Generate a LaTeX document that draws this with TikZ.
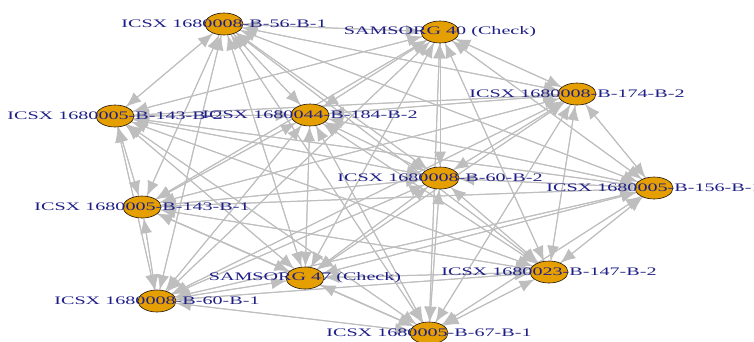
\documentclass[tikz,border=0pt]{standalone}
\usepackage{fontspec}
\newfontfamily\lblfont[FakeStretch=1.75]{Liberation Serif}
\usetikzlibrary{shapes.geometric,arrows.meta,backgrounds}
\definecolor{vorange}{RGB}{230,159,0}
\definecolor{egray}{RGB}{190,190,190}
\definecolor{lblue}{RGB}{30,30,135}
\begin{document}
\begin{tikzpicture}[x=1pt,y=-1pt,
  vert/.style={ellipse,draw=black!85!brown,fill=vorange,line width=0.6pt,minimum width=38pt,minimum height=22pt,inner sep=0pt},
  every label/.style={text=lblue,font=\lblfont\fontsize{11.5}{12}\selectfont,inner sep=0pt},
  edge/.style={draw=egray,line width=1pt,-{Latex[length=15pt,width=12pt]}}]
\useasboundingbox (0,0) rectangle (754,341);
\node[vert,label=center:{ICSX 1680008-B-56-B-1}] (v1) at (224,24) {};
\node[vert,label=center:{SAMSORG 40 (Check)}] (v2) at (440,32) {};
\node[vert,label=center:{ICSX 1680008-B-174-B-2}] (v3) at (577,94) {};
\node[vert,label=center:{ICSX 1680005-B-143-B-2}] (v4) at (115,116) {};
\node[vert,label=center:{ICSX 1680044-B-184-B-2}] (v5) at (310,115) {};
\node[vert,label=center:{ICSX 1680008-B-60-B-2}] (v6) at (440,178) {};
\node[vert,label=center:{ICSX 1680005-B-156-B-1}] (v7) at (654,188) {};
\node[vert,label=center:{ICSX 1680005-B-143-B-1}] (v8) at (142,207) {};
\node[vert,label=center:{SAMSORG 47 (Check)}] (v9) at (305,278) {};
\node[vert,label=center:{ICSX 1680023-B-147-B-2}] (v10) at (549,272) {};
\node[vert,label=center:{ICSX 1680008-B-60-B-1}] (v11) at (157,301) {};
\node[vert,label=center:{ICSX 1680005-B-67-B-1}] (v12) at (429,333) {};
\begin{scope}[on background layer]
\foreach \i in {1,...,12}{
  \foreach \j in {1,...,12}{
    \ifnum\i=\j\relax\else\draw[edge] (v\i) -- (v\j);\fi
  }
}
\end{scope}
\end{tikzpicture}
\end{document}
